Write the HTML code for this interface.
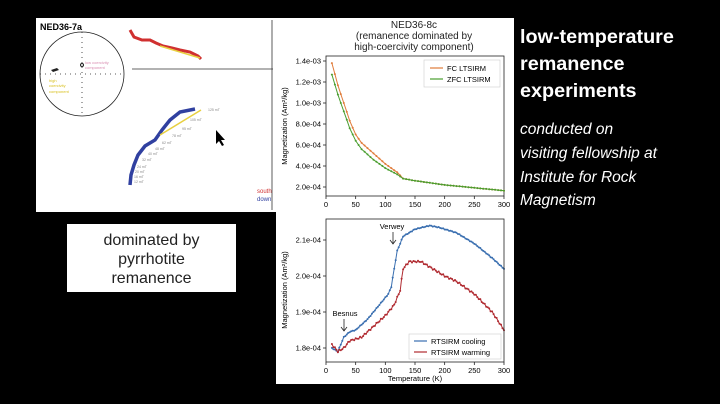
<!DOCTYPE html>
<html><head><meta charset="utf-8"><style>
html,body{margin:0;padding:0;background:#000;}
body{width:720px;height:404px;position:relative;overflow:hidden;font-family:"Liberation Sans",sans-serif;}
.t{position:absolute;left:520px;color:#fff;}
.b{font-weight:bold;font-size:19.8px;}
.i{font-style:italic;font-size:15.5px;}
</style></head><body>
<div style="position:absolute;left:36px;top:18px;width:240px;height:194px;background:#fff"></div>
<div style="position:absolute;left:276px;top:18px;width:238px;height:366px;background:#fff"></div>
<div style="position:absolute;left:67px;top:224px;width:169px;height:68px;background:#fff;text-align:center;font-size:16px;line-height:19px;color:#222;padding-top:7px;box-sizing:border-box">dominated by<br>pyrrhotite<br>remanence</div>
<div class="t b" style="top:26px">low-temperature</div>
<div class="t b" style="top:53px">remanence</div>
<div class="t b" style="top:80px">experiments</div>
<div class="t i" style="top:121px">conducted on</div>
<div class="t i" style="top:145px">visiting fellowship at</div>
<div class="t i" style="top:169px">Institute for Rock</div>
<div class="t i" style="top:192px">Magnetism</div>
<svg id="s" width="720" height="404" style="position:absolute;left:0;top:0" font-family="Liberation Sans, sans-serif">
<text x="40" y="30" font-size="9" font-weight="bold">NED36-7a</text>
<circle cx="82" cy="74" r="42" fill="none" stroke="#222" stroke-width="0.8"/>
<line x1="40" y1="74" x2="124" y2="74" stroke="#222" stroke-width="0.8" stroke-dasharray="1,4"/>
<line x1="82" y1="32" x2="82" y2="116" stroke="#222" stroke-width="0.8" stroke-dasharray="1,4"/>
<path d="M51 70 l6 -2 l2 2 l-6 2z" fill="#222"/>
<circle cx="82" cy="65" r="1.5" fill="none" stroke="#222"/>
<text x="85" y="64" font-size="4" fill="#d98cb0">low coercivity</text>
<text x="85" y="69" font-size="4" fill="#d98cb0">component</text>
<text x="49" y="82" font-size="4" fill="#d8c020">high</text>
<text x="49" y="87" font-size="4" fill="#d8c020">coercivity</text>
<text x="49" y="93" font-size="4" fill="#d8c020">component</text>
<line x1="132" y1="69" x2="273" y2="69" stroke="#333" stroke-width="0.8"/>
<line x1="272" y1="20" x2="272" y2="210" stroke="#333" stroke-width="0.8"/>
<polyline points="130,30 134,37 142,40 150,40 156,43 163,46 172,48 180,50 190,52 198,56 201,59" fill="none" stroke="#d03030" stroke-width="3"/>
<line x1="160" y1="46" x2="200" y2="58" stroke="#e8d040" stroke-width="1.5"/>
<polyline points="130,185 131,175 134,165 138,155 145,146 155,140 162,130 170,120 180,112 195,109" fill="none" stroke="#3040a0" stroke-width="3.5"/>
<line x1="160" y1="135" x2="201" y2="110" stroke="#e8d040" stroke-width="1.5"/>
<g font-size="3.5" fill="#888"><text x="208" y="111">125 mT</text><text x="190" y="121">105 mT</text><text x="182" y="130">95 mT</text><text x="172" y="137">78 mT</text><text x="162" y="144">62 mT</text><text x="155" y="150">48 mT</text><text x="148" y="155">40 mT</text><text x="142" y="161">32 mT</text><text x="137" y="168">24 mT</text><text x="135" y="173">20 mT</text><text x="134" y="178">16 mT</text><text x="134" y="183">12 mT</text></g>
<text x="257" y="193" font-size="6" fill="#d03030">south</text>
<text x="257" y="201" font-size="6" fill="#3040a0">down</text>
<path d="M216 130 l0 14 l3 -3 l3 5 l2 -1 l-3 -5 l4 0z" fill="#000"/>
<g font-size="10" text-anchor="middle" fill="#222"><text x="414" y="28">NED36-8c</text><text x="414" y="39">(remanence dominated by</text><text x="414" y="50">high-coercivity component)</text></g>
<rect x="326" y="56" width="178" height="140" fill="none" stroke="#222" stroke-width="0.8"/>
<g id="tg"></g>
<rect x="326" y="219" width="178" height="143" fill="none" stroke="#222" stroke-width="0.8"/>
<text x="287" y="126" font-size="7.5" transform="rotate(-90 287 126)" text-anchor="middle">Magnetization (Am²/kg)</text>
<text x="287" y="290" font-size="7.5" transform="rotate(-90 287 290)" text-anchor="middle">Magnetization (Am²/kg)</text>
<text x="415" y="381" font-size="7.5" text-anchor="middle">Temperature (K)</text>
<rect x="424" y="60" width="76" height="27" fill="#fff" stroke="#ccc" stroke-width="0.6"/>
<line x1="430" y1="68" x2="443" y2="68" stroke="#e07b39" stroke-width="1.2"/><text x="447" y="71" font-size="7.5">FC LTSIRM</text>
<line x1="430" y1="79" x2="443" y2="79" stroke="#4a9e2f" stroke-width="1.2"/><text x="447" y="82" font-size="7.5">ZFC LTSIRM</text>
<rect x="409" y="334" width="92" height="25" fill="#fff" stroke="#ccc" stroke-width="0.6"/>
<line x1="414" y1="341" x2="427" y2="341" stroke="#3a6fb0" stroke-width="1.2"/><text x="431" y="344" font-size="7.5">RTSIRM cooling</text>
<line x1="414" y1="352" x2="427" y2="352" stroke="#b02a30" stroke-width="1.2"/><text x="431" y="355" font-size="7.5">RTSIRM warming</text>
<text x="392" y="229" font-size="7.5" text-anchor="middle">Verwey</text>
<path d="M393 232 v12 M390 240 l3 4 l3 -4" stroke="#222" fill="none" stroke-width="0.8"/>
<text x="345" y="316" font-size="7.5" text-anchor="middle">Besnus</text>
<path d="M344 319 v12 M341 327 l3 4 l3 -4" stroke="#222" fill="none" stroke-width="0.8"/>
</svg>
<script>
var X=function(T){return 326+T*0.5933;};
var tY=function(M){return 61+(1.4-M)/0.2*21;};
var bY=function(M){return 240+(2.1-M)/0.1*36;};
function interp(p,T){for(var i=0;i<p.length-1;i++){if(T>=p[i][0]&&T<=p[i+1][0]){var f=(T-p[i][0])/(p[i+1][0]-p[i][0]);return p[i][1]+f*(p[i+1][1]-p[i][1]);}}return p[p.length-1][1];}
function series(p,Y,col,step,jit){var pts=[],dots='';for(var T=p[0][0];T<=300;T+=step){var m=interp(p,T)+(jit?(Math.sin(T*0.9)*jit):0);var x=X(T),y=Y(m);pts.push(x.toFixed(1)+','+y.toFixed(1));dots+='<circle cx="'+x.toFixed(1)+'" cy="'+y.toFixed(1)+'" r="1" fill="'+col+'"/>';}
return '<polyline points="'+pts.join(' ')+'" fill="none" stroke="'+col+'" stroke-width="1"/>'+dots;}
var t='';
[[1.4,'1.4e-03'],[1.2,'1.2e-03'],[1.0,'1.0e-03'],[0.8,'8.0e-04'],[0.6,'6.0e-04'],[0.4,'4.0e-04'],[0.2,'2.0e-04']].forEach(function(v){var y=tY(v[0]);t+='<line x1="323" x2="326" y1="'+y+'" y2="'+y+'" stroke="#222" stroke-width="0.8"/><text x="321" y="'+(y+2.5)+'" font-size="7.5" text-anchor="end">'+v[1]+'</text>';});
[0,50,100,150,200,250,300].forEach(function(T){var x=X(T);t+='<line x1="'+x+'" x2="'+x+'" y1="196" y2="199" stroke="#222" stroke-width="0.8"/><text x="'+x+'" y="207" font-size="7.5" text-anchor="middle">'+T+'</text>';
t+='<line x1="'+x+'" x2="'+x+'" y1="362" y2="365" stroke="#222" stroke-width="0.8"/><text x="'+x+'" y="373" font-size="7.5" text-anchor="middle">'+T+'</text>';});
[[2.1,'2.1e-04'],[2.0,'2.0e-04'],[1.9,'1.9e-04'],[1.8,'1.8e-04']].forEach(function(v){var y=bY(v[0]);t+='<line x1="323" x2="326" y1="'+y+'" y2="'+y+'" stroke="#222" stroke-width="0.8"/><text x="321" y="'+(y+2.5)+'" font-size="7.5" text-anchor="end">'+v[1]+'</text>';});
var fc=[[10,1.38],[20,1.17],[30,1.0],[40,0.83],[50,0.7],[60,0.62],[80,0.52],[100,0.42],[120,0.34],[130,0.28],[150,0.26],[200,0.22],[300,0.165]];
var zfc=[[10,1.27],[20,1.08],[30,0.92],[40,0.76],[50,0.64],[60,0.56],[80,0.46],[100,0.38],[120,0.32],[130,0.28],[150,0.26],[200,0.22],[300,0.165]];
t+=series(fc,tY,'#e07b39',5,0)+series(zfc,tY,'#4a9e2f',5,0);
var co=[[10,1.80],[20,1.79],[30,1.83],[40,1.845],[50,1.85],[70,1.88],[90,1.92],[105,1.95],[110,1.97],[115,2.02],[120,2.07],[130,2.11],[150,2.13],[175,2.14],[190,2.135],[220,2.12],[250,2.09],[280,2.05],[300,2.02]];
var wa=[[10,1.81],[20,1.79],[30,1.80],[40,1.82],[60,1.83],[80,1.86],[100,1.89],[115,1.92],[125,1.96],[130,2.02],[140,2.04],[160,2.04],[180,2.02],[200,2.0],[220,1.985],[250,1.95],[280,1.90],[300,1.85]];
t+=series(co,bY,'#3a6fb0',2.5,0.001)+series(wa,bY,'#b02a30',2.5,0.0025);
document.getElementById('tg').innerHTML=t;
</script>
</body></html>
